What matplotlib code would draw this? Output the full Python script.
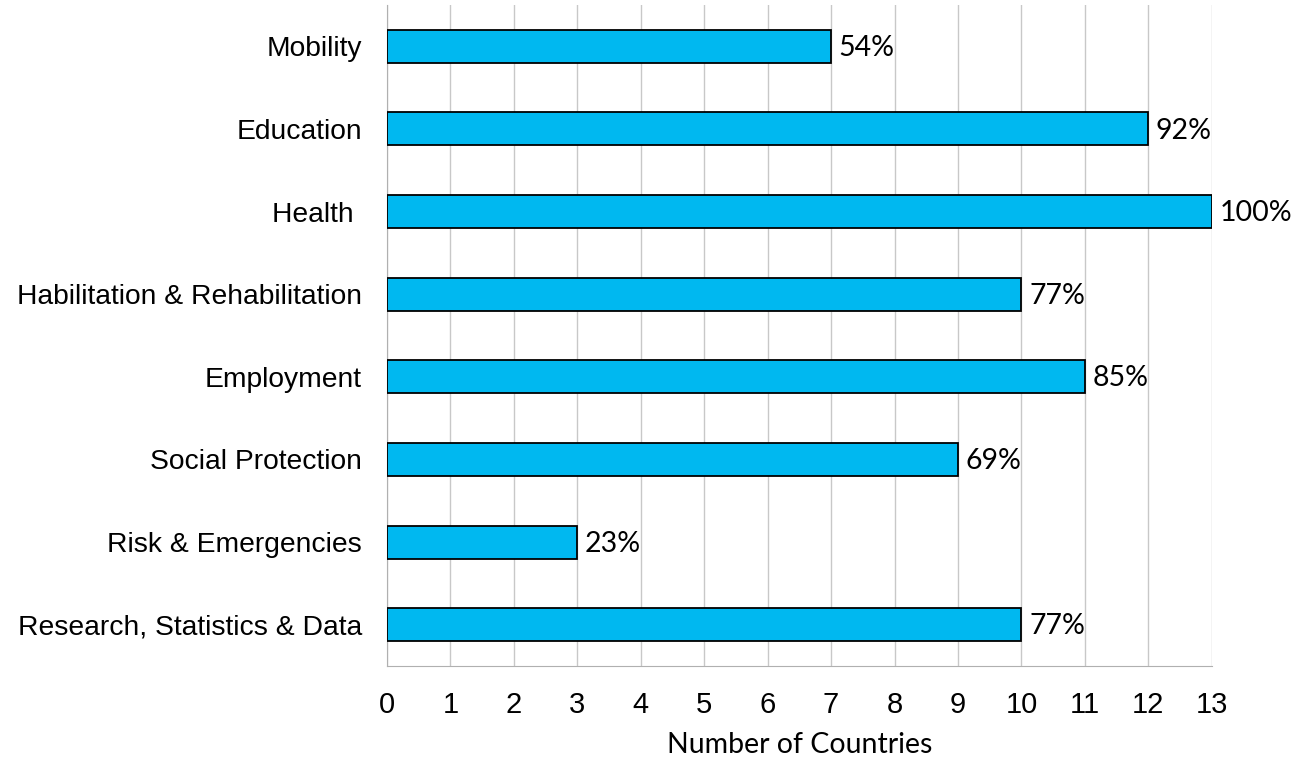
import numpy as np
import matplotlib.pyplot as plt

categories = ['Mobility', 'Education', 'Health ', 'Habilitation & Rehabilitation',
              'Employment', 'Social Protection', 'Risk & Emergencies',
              'Research, Statistics & Data']
countries = [7, 12, 13, 10, 11, 9, 3, 10]
shares = ['54%', '92%', '100%', '77%', '85%', '69%', '23%', '77%']
xticks = list(range(0, 14))

fig = plt.figure(figsize=(13.03, 7.59), dpi=100)
ax = fig.add_axes([0.297, 0.1225, 0.633, 0.871])

y = np.arange(len(categories))
bars = ax.barh(y, countries, height=0.4, color='#00B8F0',
               edgecolor='black', linewidth=1.3, zorder=3)

for b, s in zip(bars, shares):
    ax.text(b.get_width() + 0.12, b.get_y() + b.get_height() / 2 + 0.02, s,
            va='center', ha='left', fontsize=20.5, family='Lato', clip_on=False)

ax.set_xlim(0, 13)
ax.set_ylim(len(categories) - 0.5, -0.5)
ax.set_xticks(xticks)
ax.set_yticks(y)
ax.set_yticklabels(categories, family='Liberation Sans', fontsize=20.3)
ax.tick_params(axis='y', length=0, pad=18)
ax.tick_params(axis='x', length=0, pad=18, labelsize=21)
for lab in ax.get_xticklabels():
    lab.set_family('Liberation Sans')

ax.grid(axis='x', color='#c8c8c8', linewidth=1.0, zorder=0)
for side in ['top', 'right']:
    ax.spines[side].set_visible(False)
ax.spines['left'].set_color('#b0b0b0')
ax.spines['bottom'].set_color('#b0b0b0')

ax.set_xlabel('Number of Countries', family='Lato', fontsize=20.5, labelpad=9)

fig.savefig('out.png', dpi=100)
